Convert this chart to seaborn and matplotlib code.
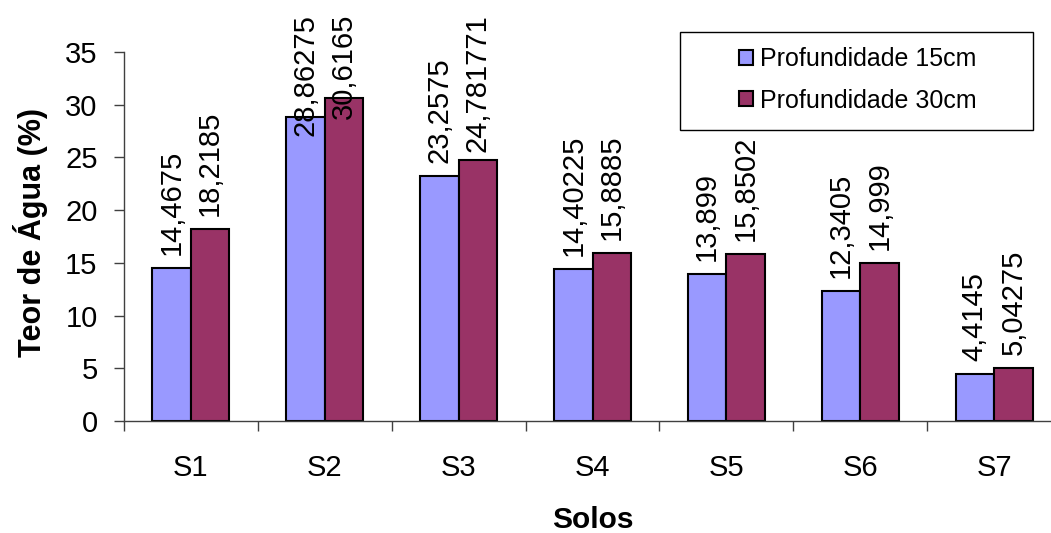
import matplotlib
matplotlib.use("Agg")
import matplotlib.pyplot as plt
from matplotlib.patches import Rectangle, Patch
import pandas as pd
import seaborn as sns

# Water content per soil at two sampling depths
solos = ["S1", "S2", "S3", "S4", "S5", "S6", "S7"]
prof_15 = [14.4675, 28.86275, 23.2575, 14.40225, 13.899, 12.3405, 4.4145]
prof_30 = [18.2185, 30.6165, 24.781771, 15.8885, 15.8502, 14.999, 5.04275]
series = ["Profundidade 15cm", "Profundidade 30cm"]
cores = ["#9999FF", "#993366"]
y_ticks = [0, 5, 10, 15, 20, 25, 30, 35]

sns.set_theme(style="white")
plt.rcParams["font.family"] = ["Liberation Sans", "DejaVu Sans"]
plt.rcParams["text.color"] = "black"
plt.rcParams["axes.labelcolor"] = "black"

df = pd.DataFrame({
    "Solo": solos * 2,
    "Teor": prof_15 + prof_30,
    "Profundidade": [series[0]] * len(solos) + [series[1]] * len(solos),
})

W, H, DPI = 1051, 533, 100
fig = plt.figure(figsize=(W / DPI, H / DPI), dpi=DPI)
ax = fig.add_axes([124 / W, 112 / H, 937 / W, 369 / H])

sns.barplot(data=df, x="Solo", y="Teor", hue="Profundidade", hue_order=series,
            palette=cores, width=0.575, edgecolor="black", linewidth=1.5,
            saturation=1, legend=False, ax=ax)

ax.set_xlim(-0.5, len(solos) - 0.5)
ax.set_ylim(0, 35)
ax.set_yticks(y_ticks)
ax.set_yticklabels([str(t) for t in y_ticks])

# category boundaries carry the tick marks, labels sit at the centres
ax.set_xticks([i + 0.5 for i in range(-1, len(solos))], minor=True)
ax.tick_params(axis="x", which="both", bottom=True)
ax.tick_params(axis="y", which="major", left=True)
ax.tick_params(axis="x", which="major", length=0, pad=24, labelsize=21, colors="black")
ax.tick_params(axis="x", which="minor", length=7, width=1, direction="out", color="#404040")
ax.tick_params(axis="y", which="major", length=7, width=1, direction="out",
               pad=12, labelsize=21, color="#404040", labelcolor="black")

for side in ["top", "right"]:
    ax.spines[side].set_visible(False)
for side in ["left", "bottom"]:
    ax.spines[side].set_color("#404040")
    ax.spines[side].set_linewidth(1)

ax.set_ylabel("Teor de Água (%)", fontsize=22, fontweight="bold", va="center")
ax.yaxis.set_label_coords(-0.1003, 0.51)
ax.set_xlabel("Solos", fontsize=21.5, fontweight="bold", va="center")
ax.xaxis.set_label_coords(0.5, -0.268)

# vertical value labels above each bar
offset_pt = 9.5
anns = []
for cont, vals in zip(ax.containers, [prof_15, prof_30]):
    for bar, v in zip(cont, vals):
        xc = bar.get_x() + bar.get_width() / 2
        a = ax.annotate(str(v).replace(".", ","), xy=(xc, v), xytext=(0, offset_pt),
                        textcoords="offset points", rotation=90, ha="center",
                        va="bottom", fontsize=21, color="black",
                        annotation_clip=False)
        anns.append(a)

# keep labels inside the figure's top margin
fig.canvas.draw()
renderer = fig.canvas.get_renderer()
top_limit = H - 14
for a in anns:
    bb = a.get_window_extent(renderer)
    if bb.y1 > top_limit:
        shift = (bb.y1 - top_limit) * 72 / DPI
        a.xyann = (0, offset_pt - shift)

# legend with a boxed frame
fig.patches.append(Rectangle((680 / W, (H - 130) / H), 353 / W, 98 / H,
                             transform=fig.transFigure, facecolor="white",
                             edgecolor="black", linewidth=1.0, zorder=5))
handles = [Patch(facecolor=c, edgecolor="black", linewidth=1.5) for c in cores]
fig.legend(handles, series, loc="center", bbox_to_anchor=(858 / W, (H - 80) / H),
           bbox_transform=fig.transFigure, frameon=False, fontsize=18,
           handlelength=0.55, handleheight=0.55, handletextpad=0.3,
           labelspacing=0.7, borderpad=0, labelcolor="black")

fig.savefig("out.png", dpi=DPI)
